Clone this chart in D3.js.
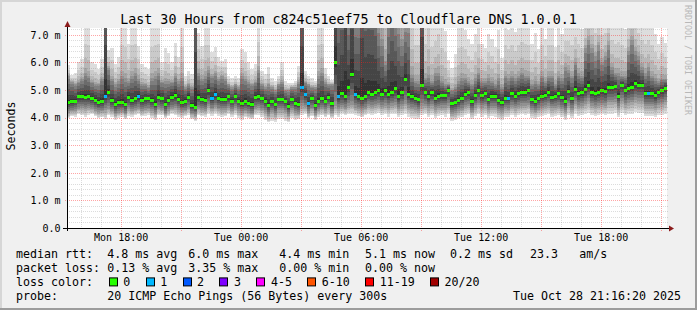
<!DOCTYPE html>
<html>
<head>
<meta charset="utf-8">
<script src="https://cdn.jsdelivr.net/npm/d3@7"></script>
<style>
  html, body { margin: 0; padding: 0; background: #f0f0f0; }
  svg { display: block; }
  text { font-family: "DejaVu Sans Mono", monospace; }
</style>
</head>
<body>
<svg id="chart" width="697" height="310"></svg>
<script>
// 10 minute steps from Mon 15:19 to Tue 21:19
const stepMinutes = 10;
const startTime = new Date(2025, 9, 27, 15, 19, 0);
const endTime = new Date(2025, 9, 28, 21, 19, 0);

// median rtt per step (ms)
const medianRtt = [
  4.55, 4.62, 4.62, 4.78, 4.78, 4.76, 4.78, 4.72, 4.64, 4.57, 4.62, 4.78, 4.94, 4.64, 4.48,
  4.57, 4.57, 4.48, 4.76, 4.64, 4.70, 4.78, 4.64, 4.70, 4.70, 4.64, 4.50, 4.76, 4.70, 4.50,
  4.64, 4.76, 4.82, 4.67, 4.57, 4.62, 4.76, 4.46, 4.40, 4.76, 4.67, 4.64, 5.00, 4.70, 4.85,
  4.70, 4.66, 4.66, 4.78, 4.62, 4.78, 4.62, 4.54, 4.62, 4.54, 4.50, 4.76, 4.78, 4.71, 4.62,
  4.45, 4.59, 4.48, 4.66, 4.66, 4.59, 4.42, 4.66, 4.54, 4.50, 5.12, 4.85, 4.54, 4.70, 4.45,
  4.62, 4.71, 4.62, 4.76, 4.54, 6.00, 4.78, 4.88, 4.78, 5.12, 5.60, 4.85, 4.78, 4.71, 4.78,
  4.92, 4.87, 4.92, 4.99, 4.87, 4.99, 4.85, 4.94, 5.06, 4.78, 4.92, 5.40, 4.85, 4.78, 4.73,
  4.66, 5.20, 4.92, 4.78, 4.92, 4.73, 4.80, 4.82, 4.82, 5.00, 4.52, 4.55, 4.64, 4.71, 4.87,
  4.92, 4.62, 4.82, 4.99, 4.82, 4.90, 4.66, 4.80, 4.80, 4.64, 4.58, 4.73, 4.71, 4.88, 4.80,
  4.88, 4.94, 4.94, 4.99, 4.66, 4.62, 4.71, 4.80, 4.83, 4.94, 4.76, 4.80, 4.88, 4.76, 4.59,
  4.97, 4.71, 5.04, 4.88, 4.94, 5.04, 5.18, 4.94, 4.88, 4.94, 4.99, 4.96, 5.12, 5.12, 5.15,
  4.80, 5.18, 4.99, 5.09, 5.12, 5.24, 5.20, 5.20, 4.88, 4.88, 4.88, 4.82, 4.94, 4.99, 5.09
];

// fastest ping per step (ms)
const pingLow = [
  3.95, 4.05, 4.00, 4.10, 4.05, 3.98, 4.08, 4.10, 4.02, 3.95, 4.00, 3.92, 4.05, 4.00, 3.90,
  3.98, 4.02, 3.92, 4.05, 4.00, 4.08, 4.10, 4.02, 4.05, 4.08, 3.95, 3.90, 4.05, 4.08, 3.95,
  4.02, 4.10, 4.05, 4.00, 3.98, 4.05, 4.08, 3.92, 3.85, 4.05, 4.02, 4.00, 4.10, 4.05, 4.10,
  4.05, 4.00, 4.02, 4.10, 4.00, 4.08, 3.95, 3.90, 4.00, 3.95, 3.92, 4.05, 4.08, 3.98, 3.88,
  3.80, 3.85, 3.82, 3.92, 3.90, 3.85, 3.80, 3.95, 3.90, 3.92, 4.05, 4.10, 3.95, 4.02, 3.90,
  4.00, 4.05, 3.98, 4.05, 3.95, 4.05, 4.00, 4.10, 4.05, 4.08, 4.10, 4.05, 4.02, 3.98, 4.05,
  4.10, 4.05, 4.08, 4.12, 4.05, 4.10, 4.00, 4.08, 4.10, 3.98, 4.05, 4.10, 4.00, 3.95, 3.92,
  3.90, 4.05, 4.08, 4.00, 4.05, 3.95, 4.02, 4.05, 4.00, 4.08, 3.85, 3.88, 3.95, 3.98, 4.05,
  4.08, 3.92, 4.02, 4.10, 4.00, 4.05, 3.95, 4.02, 4.00, 3.92, 3.90, 4.00, 3.98, 4.05, 4.00,
  4.05, 4.08, 4.05, 4.10, 3.95, 3.92, 3.98, 4.02, 4.05, 4.08, 4.00, 4.02, 4.05, 3.98, 3.90,
  4.05, 3.95, 4.10, 4.02, 4.05, 4.10, 4.12, 4.05, 4.00, 4.05, 4.08, 4.05, 4.10, 4.10, 4.12,
  3.98, 4.10, 4.05, 4.08, 4.10, 4.15, 4.12, 4.10, 4.00, 4.02, 4.00, 3.98, 4.05, 4.05, 4.10
];

// lower quartile ping per step (ms)
const pingQ1 = [
  4.20, 4.25, 4.27, 4.35, 4.37, 4.35, 4.37, 4.33, 4.27, 4.23, 4.25, 4.30, 4.35, 4.27, 4.15,
  4.20, 4.23, 4.15, 4.33, 4.27, 4.30, 4.35, 4.27, 4.30, 4.33, 4.27, 4.17, 4.35, 4.30, 4.15,
  4.27, 4.35, 4.37, 4.30, 4.23, 4.25, 4.35, 4.15, 4.10, 4.35, 4.30, 4.27, 4.45, 4.33, 4.40,
  4.33, 4.30, 4.30, 4.37, 4.27, 4.37, 4.27, 4.20, 4.25, 4.20, 4.15, 4.35, 4.37, 4.33, 4.25,
  4.10, 4.23, 4.13, 4.30, 4.30, 4.23, 4.10, 4.30, 4.20, 4.17, 4.45, 4.40, 4.20, 4.33, 4.13,
  4.27, 4.35, 4.27, 4.37, 4.20, 4.45, 4.35, 4.40, 4.35, 4.45, 4.50, 4.40, 4.35, 4.30, 4.35,
  4.45, 4.43, 4.45, 4.50, 4.43, 4.47, 4.40, 4.47, 4.50, 4.35, 4.45, 4.55, 4.40, 4.35, 4.33,
  4.27, 4.45, 4.45, 4.37, 4.45, 4.33, 4.37, 4.40, 4.40, 4.47, 4.17, 4.20, 4.27, 4.33, 4.43,
  4.45, 4.25, 4.40, 4.50, 4.40, 4.45, 4.30, 4.40, 4.40, 4.27, 4.23, 4.35, 4.33, 4.43, 4.37,
  4.43, 4.47, 4.47, 4.50, 4.30, 4.25, 4.33, 4.40, 4.43, 4.47, 4.37, 4.40, 4.43, 4.35, 4.23,
  4.47, 4.33, 4.55, 4.43, 4.47, 4.55, 4.65, 4.47, 4.43, 4.47, 4.50, 4.47, 4.60, 4.60, 4.63,
  4.40, 4.65, 4.50, 4.57, 4.60, 4.70, 4.67, 4.67, 4.45, 4.45, 4.45, 4.40, 4.50, 4.53, 4.60
];

// upper quartile ping per step (ms)
const pingQ3 = [
  5.5, 5.3, 5.2, 5.3, 5.4, 5.6, 5.5, 5.3, 5.2, 5.2, 5.4, 11.0, 5.8, 5.4, 5.2,
  5.3, 5.5, 5.4, 5.3, 5.5, 5.6, 5.4, 5.2, 5.2, 5.1, 5.4, 5.5, 5.6, 5.3, 5.3,
  5.3, 5.3, 5.5, 5.3, 5.4, 5.1, 5.2, 5.1, 11.0, 5.6, 5.4, 5.5, 5.7, 5.5, 5.6,
  5.4, 5.5, 5.4, 5.2, 5.1, 5.2, 5.1, 5.5, 5.4, 5.3, 5.2, 5.3, 5.7, 5.2, 5.1,
  5.2, 5.1, 5.0, 5.2, 5.3, 5.0, 5.0, 5.1, 5.1, 5.3, 10.0, 5.3, 5.2, 5.1, 5.1,
  5.5, 5.6, 5.3, 5.2, 5.2, 12.0, 8.6, 9.5, 14.0, 7.8, 11.0, 7.8, 7.8, 12.0, 9.5,
  9.5, 9.5, 9.0, 7.3, 6.8, 6.0, 7.8, 8.6, 7.8, 7.3, 6.8, 7.3, 7.3, 5.5, 5.3,
  5.3, 11.0, 5.4, 5.5, 5.3, 5.6, 5.6, 5.3, 5.2, 5.2, 5.0, 5.1, 5.3, 5.4, 5.4,
  5.3, 5.2, 5.4, 5.6, 5.3, 5.3, 5.4, 5.3, 5.2, 5.4, 5.1, 5.5, 5.4, 5.5, 5.4,
  5.5, 5.6, 5.5, 5.5, 5.2, 5.3, 5.2, 5.5, 5.3, 5.5, 5.5, 5.2, 5.5, 5.4, 5.8,
  5.7, 5.5, 6.0, 5.6, 5.5, 6.5, 6.8, 6.5, 6.2, 6.6, 6.0, 6.2, 6.6, 5.8, 5.6,
  5.6, 5.5, 5.5, 6.4, 6.8, 6.4, 6.2, 5.8, 5.6, 5.8, 5.5, 5.4, 5.3, 5.4, 5.4
];

// slowest ping per step (ms), above the top of the chart where clipped
const pingHigh = [
  6.0, 5.6, 5.7, 6.2, 6.3, 7.8, 7.8, 6.2, 6.1, 5.9, 6.3, 20, 6.6, 6.8, 6.1,
  6.4, 7.8, 7.8, 7.0, 7.8, 7.8, 6.9, 6.1, 6.0, 5.9, 7.8, 7.8, 7.8, 6.2, 6.8,
  6.6, 6.2, 7.0, 6.4, 7.8, 5.6, 5.8, 5.7, 20, 7.4, 6.9, 7.8, 7.6, 6.6, 6.8,
  6.4, 6.2, 6.3, 5.6, 5.5, 5.6, 5.5, 6.7, 6.6, 6.2, 5.9, 6.1, 7.8, 5.8, 5.7,
  6.0, 5.5, 5.4, 5.6, 6.2, 5.4, 5.3, 5.3, 5.4, 6.0, 18, 5.8, 5.6, 5.5, 5.4,
  7.8, 7.8, 5.9, 5.6, 5.4, 20, 14, 15, 20, 13, 18, 13, 13, 20, 15,
  15, 15, 14, 12, 12, 11.5, 13, 14, 13, 12, 12, 12, 12, 9.5, 8.0,
  8.0, 20, 8.0, 9.5, 7.9, 8.0, 8.5, 7.8, 7.6, 6.3, 6.0, 6.6, 7.8, 7.8, 7.6,
  7.2, 7.0, 7.4, 7.8, 7.0, 6.8, 7.4, 7.2, 6.9, 7.6, 6.4, 7.8, 7.6, 7.8, 7.5,
  7.8, 7.9, 7.9, 7.8, 7.0, 7.5, 6.8, 7.8, 7.2, 7.8, 7.8, 6.9, 7.8, 7.4, 7.8,
  7.9, 7.8, 7.9, 7.8, 7.6, 8.0, 8.5, 8.5, 8.0, 8.2, 8.0, 8.0, 8.5, 7.9, 7.8,
  7.9, 7.8, 7.6, 8.2, 8.5, 8.2, 8.0, 7.9, 7.8, 7.9, 7.8, 7.4, 7.0, 7.3, 7.0
];

// lost pings (of 20) per step
const lostPings = [
  0,0,0,0,0,0,0,0,0,0,0,1,0,0,0,
  0,0,0,0,0,0,1,0,0,0,0,0,0,0,0,
  0,0,0,0,0,0,0,0,0,0,0,0,0,1,1,
  0,0,0,0,0,0,0,0,0,0,0,0,0,0,0,
  0,0,0,0,0,0,0,0,0,0,1,1,1,0,0,
  0,0,0,0,0,0,1,0,0,0,0,1,0,0,0,
  0,0,0,0,0,0,0,0,0,0,0,0,0,0,0,
  0,0,0,0,0,0,0,0,0,0,0,0,0,0,0,
  0,0,0,0,0,0,0,0,0,0,0,0,1,0,0,
  0,0,0,0,0,0,0,0,0,0,0,0,0,0,0,
  0,0,0,0,0,0,0,0,0,0,0,0,0,0,0,
  0,0,0,0,0,0,0,0,0,1,0,0,0,0,0
];

const lossLabels = ['0', '1', '2', '3', '4-5', '6-10', '11-19', '20/20'];
const lossUpTo = [0, 1, 2, 3, 5, 10, 19, 20];
const lossColors = ['#26ff00', '#00b8ff', '#0059ff', '#7e00ff', '#ff00ff', '#ff5500', '#ff0000', '#a10000'];

const yMajorTicks = [0, 1, 2, 3, 4, 5, 6, 7];
const xLabelTimes = [
  new Date(2025, 9, 27, 18), new Date(2025, 9, 28, 0), new Date(2025, 9, 28, 6),
  new Date(2025, 9, 28, 12), new Date(2025, 9, 28, 18)
];

const title = 'Last 30 Hours from c824c51eef75 to Cloudflare DNS 1.0.0.1';
const rttStats = ['4.8 ms avg', '6.0 ms max', '4.4 ms min', '5.1 ms now', '0.2 ms sd', '23.3', 'am/s'];
const lossStats = ['0.13 % avg', '3.35 % max', '0.00 % min', '0.00 % now'];
const probeText = '20 ICMP Echo Pings (56 Bytes) every 300s';
const stampText = 'Tue Oct 28 21:16:20 2025';

const W = 697, H = 310;
const plot = { left: 67, right: 667, top: 28, bottom: 228 };
const pings = 20;

const svg = d3.select('#chart');

// frame
svg.append('rect').attr('width', W).attr('height', H).attr('fill', '#f0f0f0');
svg.append('path').attr('d', `M0,0H${W}V2H2V${H}H0Z`).attr('fill', '#d6d6d6');
svg.append('path').attr('d', `M${W},${H}H0V${H - 2}H${W - 2}V0H${W}Z`).attr('fill', '#9c9c9c');

const x = d3.scaleTime().domain([startTime, endTime]).range([plot.left, plot.right]);
const y = d3.scaleLinear().domain([0, 7.25]).range([plot.bottom, plot.top]);

svg.append('rect')
  .attr('x', plot.left).attr('y', plot.top)
  .attr('width', plot.right - plot.left).attr('height', plot.bottom - plot.top)
  .attr('fill', '#ffffff');

svg.append('clipPath').attr('id', 'plotClip')
  .append('rect')
  .attr('x', plot.left).attr('y', plot.top)
  .attr('width', plot.right - plot.left).attr('height', plot.bottom - plot.top);

const steps = medianRtt.map((m, i) => {
  const t0 = d3.timeMinute.offset(startTime, i * stepMinutes);
  const t1 = d3.timeMinute.offset(startTime, (i + 1) * stepMinutes);
  return { t0, t1, med: m, lo: pingLow[i], q1: pingQ1[i], q3: pingQ3[i], hi: pingHigh[i], loss: lostPings[i] };
});

// spread the summary values back over the 20 sorted pings of a step
function pingAt(s, p) {
  if (p <= 0.25) return s.lo + (s.q1 - s.lo) * p / 0.25;
  if (p <= 0.5) return s.q1 + (s.med - s.q1) * (p - 0.25) / 0.25;
  if (p <= 0.75) return s.med + (s.q3 - s.med) * (p - 0.5) / 0.25;
  const t = (p - 0.75) / 0.25;
  return s.q3 + (s.hi - s.q3) * t * t;
}

const data = svg.append('g').attr('clip-path', 'url(#plotClip)');

// smoke: layer i spans ping i .. ping (21-i), darker towards the middle
const half = pings / 2;
for (let i = 1; i <= half; i++) {
  const g = Math.floor(190 / half * (half - i)) + 50;
  const col = d3.rgb(g, g, g).formatHex();
  data.append('g')
    .attr('shape-rendering', 'crispEdges')
    .selectAll('rect')
    .data(steps)
    .join('rect')
    .attr('x', d => Math.round(x(d.t0)))
    .attr('width', d => Math.round(x(d.t1)) - Math.round(x(d.t0)))
    .attr('y', d => Math.round(y(pingAt(d, (pings - i + 0.5) / pings))))
    .attr('height', d => Math.max(0, Math.round(y(pingAt(d, (i - 0.5) / pings))) - Math.round(y(pingAt(d, (pings - i + 0.5) / pings)))))
    .attr('fill', col);
}

// median marks, coloured by loss
function lossColor(n) {
  const idx = lossUpTo.findIndex(v => n <= v);
  return lossColors[idx < 0 ? lossColors.length - 1 : idx];
}

data.append('g')
  .attr('shape-rendering', 'crispEdges')
  .selectAll('rect')
  .data(steps)
  .join('rect')
  .attr('x', d => Math.round(x(d.t0)))
  .attr('width', d => Math.round(x(d.t1)) - Math.round(x(d.t0)))
  .attr('y', d => Math.round(y(d.med)) - 1)
  .attr('height', 3)
  .attr('fill', d => lossColor(d.loss));

// grid
const grid = svg.append('g').attr('shape-rendering', 'crispEdges');
const yMinor = d3.range(0.2, 7.25, 0.2).filter(v => Math.abs(v - Math.round(v)) > 0.01);
const hours = d3.timeHour.every(1).range(startTime, endTime);
const minorHours = hours.filter(h => h.getHours() % 3 !== 0);
const majorHours = hours.filter(h => h.getHours() % 3 === 0);
const minorCol = 'rgba(110,110,110,0.24)';
const majorCol = 'rgba(255,30,30,0.4)';

grid.selectAll('.ymin').data(yMinor).join('line')
  .attr('x1', plot.left).attr('x2', plot.right + 1)
  .attr('y1', d => Math.round(y(d)) + 0.5).attr('y2', d => Math.round(y(d)) + 0.5)
  .attr('stroke', minorCol).attr('stroke-dasharray', '1,1');

grid.selectAll('.xmin').data(minorHours).join('line')
  .attr('x1', d => Math.round(x(d)) + 0.5).attr('x2', d => Math.round(x(d)) + 0.5)
  .attr('y1', plot.top).attr('y2', plot.bottom + 2)
  .attr('stroke', minorCol).attr('stroke-dasharray', '1,1');

grid.selectAll('.ymaj').data(yMajorTicks.filter(v => v > 0)).join('line')
  .attr('x1', plot.left - 2).attr('x2', plot.right + 1)
  .attr('y1', d => Math.round(y(d)) + 0.5).attr('y2', d => Math.round(y(d)) + 0.5)
  .attr('stroke', majorCol).attr('stroke-dasharray', '1,1');

grid.selectAll('.xmaj').data(majorHours).join('line')
  .attr('x1', d => Math.round(x(d)) + 0.5).attr('x2', d => Math.round(x(d)) + 0.5)
  .attr('y1', plot.top).attr('y2', plot.bottom + 3)
  .attr('stroke', majorCol).attr('stroke-dasharray', '1,1');

// axes
const xAxis = d3.axisBottom(x)
  .tickValues(xLabelTimes)
  .tickFormat(d3.timeFormat('%a %H:%M'))
  .tickSize(0).tickPadding(6);

svg.append('g')
  .attr('transform', `translate(0,${plot.bottom})`)
  .call(xAxis)
  .call(g => g.select('.domain').remove())
  .selectAll('text')
  .attr('font-size', 10).attr('font-family', '"DejaVu Sans Mono", monospace').attr('fill', '#000');

const yAxis = d3.axisLeft(y)
  .tickValues(yMajorTicks)
  .tickFormat(v => v === 0 ? '0.0' : v.toFixed(1) + ' m')
  .tickSize(0).tickPadding(6.5);

svg.append('g')
  .attr('transform', `translate(${plot.left},0)`)
  .call(yAxis)
  .call(g => g.select('.domain').remove())
  .selectAll('text')
  .attr('font-size', 10).attr('font-family', '"DejaVu Sans Mono", monospace').attr('fill', '#000');

const axes = svg.append('g').attr('shape-rendering', 'crispEdges');
axes.append('line')
  .attr('x1', plot.left - 4).attr('x2', plot.right + 3)
  .attr('y1', plot.bottom + 0.5).attr('y2', plot.bottom + 0.5)
  .attr('stroke', '#000');
axes.append('line')
  .attr('x1', plot.left + 0.5).attr('x2', plot.left + 0.5)
  .attr('y1', plot.bottom + 3).attr('y2', plot.top - 3)
  .attr('stroke', '#000');

svg.append('path')
  .attr('d', `M${plot.left + 0.5},${plot.top - 7}L${plot.left + 3.5},${plot.top - 1}L${plot.left - 2.5},${plot.top - 1}Z`)
  .attr('fill', '#8b1c1c');
svg.append('path')
  .attr('d', `M${plot.right + 7},${plot.bottom + 0.5}L${plot.right + 2},${plot.bottom - 2.5}L${plot.right + 2},${plot.bottom + 3.5}Z`)
  .attr('fill', '#8b1c1c');

// texts
svg.append('text')
  .attr('x', W / 2).attr('y', 24)
  .attr('text-anchor', 'middle')
  .attr('font-size', 13.3)
  .text(title);

svg.append('text')
  .attr('transform', 'translate(15,126) rotate(-90)')
  .attr('text-anchor', 'middle')
  .attr('font-size', 11.6)
  .text('Seconds');

svg.append('text')
  .attr('transform', 'translate(685,5) rotate(90)')
  .attr('font-size', 8.3)
  .attr('fill', '#b8b8b8')
  .text('RRDTOOL / TOBI OETIKER');

const legend = svg.append('g').attr('font-size', 11.63).attr('fill', '#000');
const rowY = [258.3, 272.1, 285.9, 299.7];
const rttX = [107.3, 188.3, 279.3, 365, 450, 530, 579.3];
const lossX = [107.3, 188.3, 279.3, 365];

legend.append('text').attr('x', 16).attr('y', rowY[0]).text('median rtt:');
rttStats.forEach((s, i) => legend.append('text').attr('x', rttX[i]).attr('y', rowY[0]).text(s));

legend.append('text').attr('x', 16).attr('y', rowY[1]).text('packet loss:');
lossStats.forEach((s, i) => legend.append('text').attr('x', lossX[i]).attr('y', rowY[1]).text(s));

legend.append('text').attr('x', 16).attr('y', rowY[2]).text('loss color:');
let cx = 108.7;
lossLabels.forEach((lab, i) => {
  legend.append('rect')
    .attr('x', Math.round(cx) + 0.5).attr('y', rowY[2] - 8)
    .attr('width', 8).attr('height', 8)
    .attr('fill', lossColors[i]).attr('stroke', '#000');
  legend.append('text').attr('x', cx + 14.6).attr('y', rowY[2]).text(lab);
  cx += 14.6 + lab.length * 7 + 15.3;
});

legend.append('text').attr('x', 16).attr('y', rowY[3]).text('probe:');
legend.append('text').attr('x', 107.3).attr('y', rowY[3]).text(probeText);
legend.append('text').attr('x', 681).attr('y', rowY[3]).attr('text-anchor', 'end').text(stampText);
</script>
</body>
</html>
